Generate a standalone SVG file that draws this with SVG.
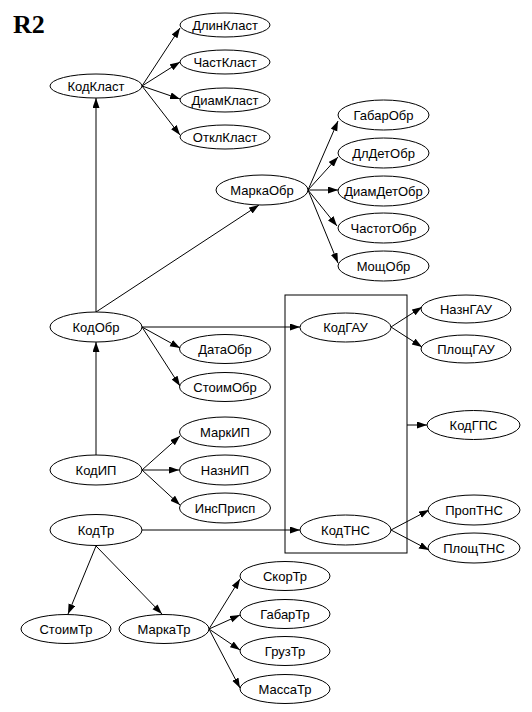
<svg xmlns="http://www.w3.org/2000/svg" width="532" height="712" viewBox="0 0 532 712">
<style>
.n ellipse{fill:#fff;stroke:#000;stroke-width:1}
.n text{font-family:"Liberation Sans",Arial,sans-serif;font-size:13px;text-anchor:middle;fill:#000}
.e line{stroke:#000;stroke-width:1;marker-end:url(#a)}
.t{font-family:"Liberation Serif","Times New Roman",serif;font-size:26px;font-weight:bold}
</style>
<defs>
<marker id="a" markerUnits="userSpaceOnUse" markerWidth="10" markerHeight="8" refX="10" refY="3.5" orient="auto"><path d="M0,0 L10,3.5 L0,7 z" fill="#000"/></marker>
</defs>
<rect width="532" height="712" fill="#fff"/>
<text class="t" x="13" y="33">R2</text>
<rect x="285" y="295" width="122" height="258" fill="none" stroke="#000"/>
<g class="e">
<line x1="96" y1="312" x2="96" y2="98"/>
<line x1="142" y1="86" x2="180" y2="28"/>
<line x1="142" y1="86" x2="180" y2="62"/>
<line x1="142" y1="86" x2="180" y2="99"/>
<line x1="142" y1="86" x2="180" y2="135"/>
<line x1="96" y1="312" x2="259" y2="205"/>
<line x1="308" y1="190" x2="338" y2="121"/>
<line x1="308" y1="190" x2="338" y2="157"/>
<line x1="308" y1="190" x2="338" y2="190"/>
<line x1="308" y1="190" x2="337" y2="226"/>
<line x1="308" y1="190" x2="338" y2="263"/>
<line x1="142" y1="327" x2="300" y2="327"/>
<line x1="142" y1="327" x2="180" y2="348"/>
<line x1="142" y1="327" x2="180" y2="386"/>
<line x1="96" y1="455" x2="96" y2="342"/>
<line x1="142" y1="470" x2="180" y2="436"/>
<line x1="142" y1="470" x2="179" y2="470"/>
<line x1="142" y1="470" x2="180" y2="505"/>
<line x1="391" y1="327" x2="422" y2="307"/>
<line x1="391" y1="327" x2="422" y2="347"/>
<line x1="407" y1="425" x2="427" y2="425"/>
<line x1="391" y1="530" x2="429" y2="510"/>
<line x1="391" y1="530" x2="429" y2="550"/>
<line x1="142" y1="530" x2="300" y2="530"/>
<line x1="96" y1="546" x2="68" y2="614"/>
<line x1="96" y1="546" x2="162" y2="614"/>
<line x1="209" y1="629" x2="240" y2="579"/>
<line x1="209" y1="629" x2="240" y2="615"/>
<line x1="209" y1="629" x2="240" y2="650"/>
<line x1="209" y1="629" x2="240" y2="688"/>
</g>
<g id="kodklast" class="n"><ellipse cx="96" cy="86" rx="46" ry="12"/><text x="96" y="90.5">КодКласт</text></g>
<g id="dlinklast" class="n"><ellipse cx="225" cy="25" rx="45" ry="12"/><text x="225" y="29.5">ДлинКласт</text></g>
<g id="chastklast" class="n"><ellipse cx="225" cy="62" rx="45" ry="12"/><text x="225" y="66.5">ЧастКласт</text></g>
<g id="diamklast" class="n"><ellipse cx="225" cy="100" rx="45" ry="12"/><text x="225" y="104.5">ДиамКласт</text></g>
<g id="otklklast" class="n"><ellipse cx="225" cy="137" rx="45" ry="12"/><text x="225" y="141.5">ОтклКласт</text></g>
<g id="markaobr" class="n"><ellipse cx="262" cy="190" rx="46" ry="15"/><text x="262" y="194.5">МаркаОбр</text></g>
<g id="gabarobr" class="n"><ellipse cx="383.5" cy="115" rx="45.5" ry="15"/><text x="383.5" y="119.5">ГабарОбр</text></g>
<g id="dldetobr" class="n"><ellipse cx="383.5" cy="153" rx="45.5" ry="15"/><text x="383.5" y="157.5">ДлДетОбр</text></g>
<g id="diamdetobr" class="n"><ellipse cx="383.5" cy="191" rx="45.5" ry="15"/><text x="383.5" y="195.5">ДиамДетОбр</text></g>
<g id="chastotobr" class="n"><ellipse cx="383.5" cy="228" rx="45.5" ry="15"/><text x="383.5" y="232.5">ЧастотОбр</text></g>
<g id="moshchobr" class="n"><ellipse cx="383.5" cy="266" rx="45.5" ry="15"/><text x="383.5" y="270.5">МощОбр</text></g>
<g id="kodobr" class="n"><ellipse cx="96" cy="327" rx="46" ry="15"/><text x="96" y="331.5">КодОбр</text></g>
<g id="dataobr" class="n"><ellipse cx="225" cy="349" rx="45.5" ry="14.5"/><text x="225" y="353.5">ДатаОбр</text></g>
<g id="stoimobr" class="n"><ellipse cx="225" cy="387" rx="45.5" ry="14.5"/><text x="225" y="391.5">СтоимОбр</text></g>
<g id="markip" class="n"><ellipse cx="225" cy="432" rx="45.5" ry="15"/><text x="225" y="436.5">МаркИП</text></g>
<g id="kodip" class="n"><ellipse cx="96" cy="470" rx="46" ry="15"/><text x="96" y="474.5">КодИП</text></g>
<g id="naznip" class="n"><ellipse cx="225" cy="470" rx="45.5" ry="15"/><text x="225" y="474.5">НазнИП</text></g>
<g id="insprisp" class="n"><ellipse cx="225" cy="508" rx="45.5" ry="15"/><text x="225" y="512.5">ИнсПрисп</text></g>
<g id="kodgau" class="n"><ellipse cx="345.5" cy="327.5" rx="45.5" ry="14.5"/><text x="345.5" y="332">КодГАУ</text></g>
<g id="namzgau" class="n"><ellipse cx="466" cy="309" rx="45" ry="14"/><text x="466" y="313.5">НазнГАУ</text></g>
<g id="ploshchgau" class="n"><ellipse cx="466" cy="349" rx="45" ry="14"/><text x="466" y="353.5">ПлощГАУ</text></g>
<g id="kodgps" class="n"><ellipse cx="473.5" cy="425" rx="46.5" ry="14.5"/><text x="473.5" y="429.5">КодГПС</text></g>
<g id="kodtns" class="n"><ellipse cx="345.5" cy="530" rx="45.5" ry="15"/><text x="345.5" y="534.5">КодТНС</text></g>
<g id="proptns" class="n"><ellipse cx="474" cy="510" rx="46" ry="15"/><text x="474" y="514.5">ПропТНС</text></g>
<g id="ploshchtns" class="n"><ellipse cx="474" cy="548" rx="46" ry="15"/><text x="474" y="552.5">ПлощТНС</text></g>
<g id="kodtr" class="n"><ellipse cx="96" cy="530" rx="46" ry="15.5"/><text x="96" y="534.5">КодТр</text></g>
<g id="stoimtr" class="n"><ellipse cx="66" cy="629" rx="45" ry="14.5"/><text x="66" y="633.5">СтоимТр</text></g>
<g id="markatr" class="n"><ellipse cx="164" cy="629" rx="45" ry="14.5"/><text x="164" y="633.5">МаркаТр</text></g>
<g id="skortr" class="n"><ellipse cx="285" cy="576" rx="45" ry="14.5"/><text x="285" y="580.5">СкорТр</text></g>
<g id="gabartr" class="n"><ellipse cx="285" cy="614" rx="45" ry="14.5"/><text x="285" y="618.5">ГабарТр</text></g>
<g id="gruztr" class="n"><ellipse cx="285" cy="651" rx="45" ry="14.5"/><text x="285" y="655.5">ГрузТр</text></g>
<g id="massatr" class="n"><ellipse cx="285" cy="689" rx="45" ry="14.5"/><text x="285" y="693.5">МассаТр</text></g>
</svg>
